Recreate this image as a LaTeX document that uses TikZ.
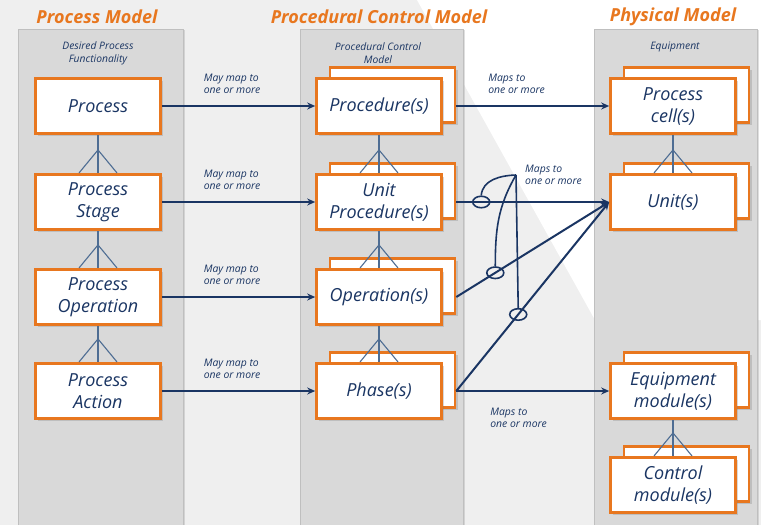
\documentclass[tikz,border=0pt]{standalone}
\usepackage{fontspec}
\setmainfont{Open Sans}
\usepackage{tikz}
\usetikzlibrary{shapes.geometric,shadows,arrows.meta}
\usepackage{xcolor}

\definecolor{borange}{HTML}{E8771F}
\definecolor{navy}{HTML}{1A3563}
\definecolor{steel}{HTML}{4E6D93}
\definecolor{panelgray}{HTML}{D9D9D9}
\definecolor{slide}{HTML}{EFEFEF}

\tikzset{
  box/.style={draw=borange, line width=2.6pt, fill=white, minimum width=125pt, minimum height=55.5pt,
    inner sep=2pt, align=center, text=navy, font=\fontsize{18}{22}\selectfont\itshape,
    drop shadow={shadow xshift=2.5pt, shadow yshift=-2.5pt, opacity=.3}},
  stack/.style={drop shadow={shadow xshift=16pt, shadow yshift=8.5pt, opacity=.3},
    copy shadow={shadow xshift=13.5pt, shadow yshift=11pt, draw=borange, fill=white, line width=2.6pt},
    box},
  title/.style={text=borange, font=\fontsize{18}{20}\selectfont\bfseries\itshape, inner sep=0pt},
  sub/.style={text=navy, font=\fontsize{10.3}{12.5}\selectfont\itshape, align=center, inner sep=0pt},
  maplabel/.style={text=navy, font=\fontsize{10.4}{12.5}\selectfont\itshape, align=left, inner sep=0pt},
  maparrow/.style={navy, line width=2pt, -{Stealth[length=8pt, width=7pt]}},
  foot/.style={steel, line width=1.1pt},
  orring/.style={ellipse, draw=navy, line width=1.6pt, minimum width=17pt, minimum height=11.5pt, inner sep=0pt},
  orline/.style={navy, line width=1.6pt}
}

\begin{document}
\begin{tikzpicture}[x=1pt, y=-1pt] %one unit is one pixel of the slide
\useasboundingbox (0,0) rectangle (761,525);
\fill[slide] (0,0) rectangle (761,525);
\fill[white] (417,0) -- (761,0) -- (761,320) -- (595,320) -- cycle;

% the three columns
\foreach \xa/\xb in {18/183, 300/463, 594/757}
  \path[fill=panelgray, draw=black!25, drop shadow={shadow xshift=2pt, shadow yshift=-1pt, opacity=.25}] (\xa,29) rectangle (\xb,540);

\node[title] (tp) at (97,17) {Process Model};
\node[title] (tc) at (379,17) {Procedural Control Model};
\node[title] (te) at (673,17) {Physical Model};

\node[sub] (sp) at (98,53.5) {Desired Process\\Functionality};
\node[sub] (sc) at (378,53) {Procedural Control\\Model};
\node[sub] (se) at (675,47) {Equipment};

% process model
\node[box] (pm) at (98,106) {Process};
\node[box] (ps) at (98,202) {Process\\Stage};
\node[box] (po) at (98,297) {Process\\Operation};
\node[box] (pa) at (98,391) {Process\\Action};

% procedural control model
\node[stack] (cp) at (379,106) {Procedure(s)};
\node[stack] (cu) at (379,202) {Unit\\Procedure(s)};
\node[stack] (co) at (379,297) {Operation(s)};
\node[stack] (ch) at (379,391) {Phase(s)};

% physical model
\node[stack] (ec) at (673,106) {Process\\cell(s)};
\node[stack] (eu) at (673,202) {Unit(s)};
\node[stack] (em) at (673,391) {Equipment\\module(s)};
\node[stack] (ecm) at (673,485) {Control\\module(s)};

% crow's feet
\foreach \up/\lo in {pm/ps, ps/po, po/pa, cp/cu, cu/co, co/ch, ec/eu, em/ecm}{
  \draw[foot] (\up.south) -- (\lo.north);
  \draw[foot] ([xshift=-19pt]\lo.north) -- ([yshift=23pt]\lo.north) -- ([xshift=19pt]\lo.north);
}

% may map to
\foreach \a/\b in {pm/cp, ps/cu, po/co, pa/ch}
  \draw[maparrow] (\a.east) -- node[maplabel, at start, anchor=south west, xshift=41pt, yshift=11pt] {May map to\\one or more} (\b.west);

% maps to
\draw[maparrow] ([xshift=13.5pt]cp.east) -- node[maplabel, at start, anchor=south west, xshift=31pt, yshift=11pt] {Maps to\\one or more} (ec.west);
\draw[maparrow] ([xshift=13.5pt]cu.east) -- node[orring, pos=.163] (or1) {} (eu.west);
\draw[maparrow] ([xshift=13.5pt]co.east) -- node[orring, pos=.255] (or2) {} (eu.west);
\draw[maparrow] ([xshift=13.5pt]ch.east) -- node[orring, pos=.405] (or3) {} (eu.west);
\draw[maparrow] ([xshift=13.5pt]ch.east) -- node[maplabel, at start, anchor=north west, xshift=33pt, yshift=-16pt] {Maps to\\one or more} (em.west);

\coordinate (apex) at (516,175);
\node[maplabel, anchor=west, xshift=9pt] (ml) at (apex) {Maps to\\one or more};
\draw[orline] (apex) to[out=182, in=85] (or1.north);
\draw[orline] (apex) to[out=240, in=90] (or2.north);
\draw[orline] (apex) -- (or3.north);
\end{tikzpicture}
\end{document}
